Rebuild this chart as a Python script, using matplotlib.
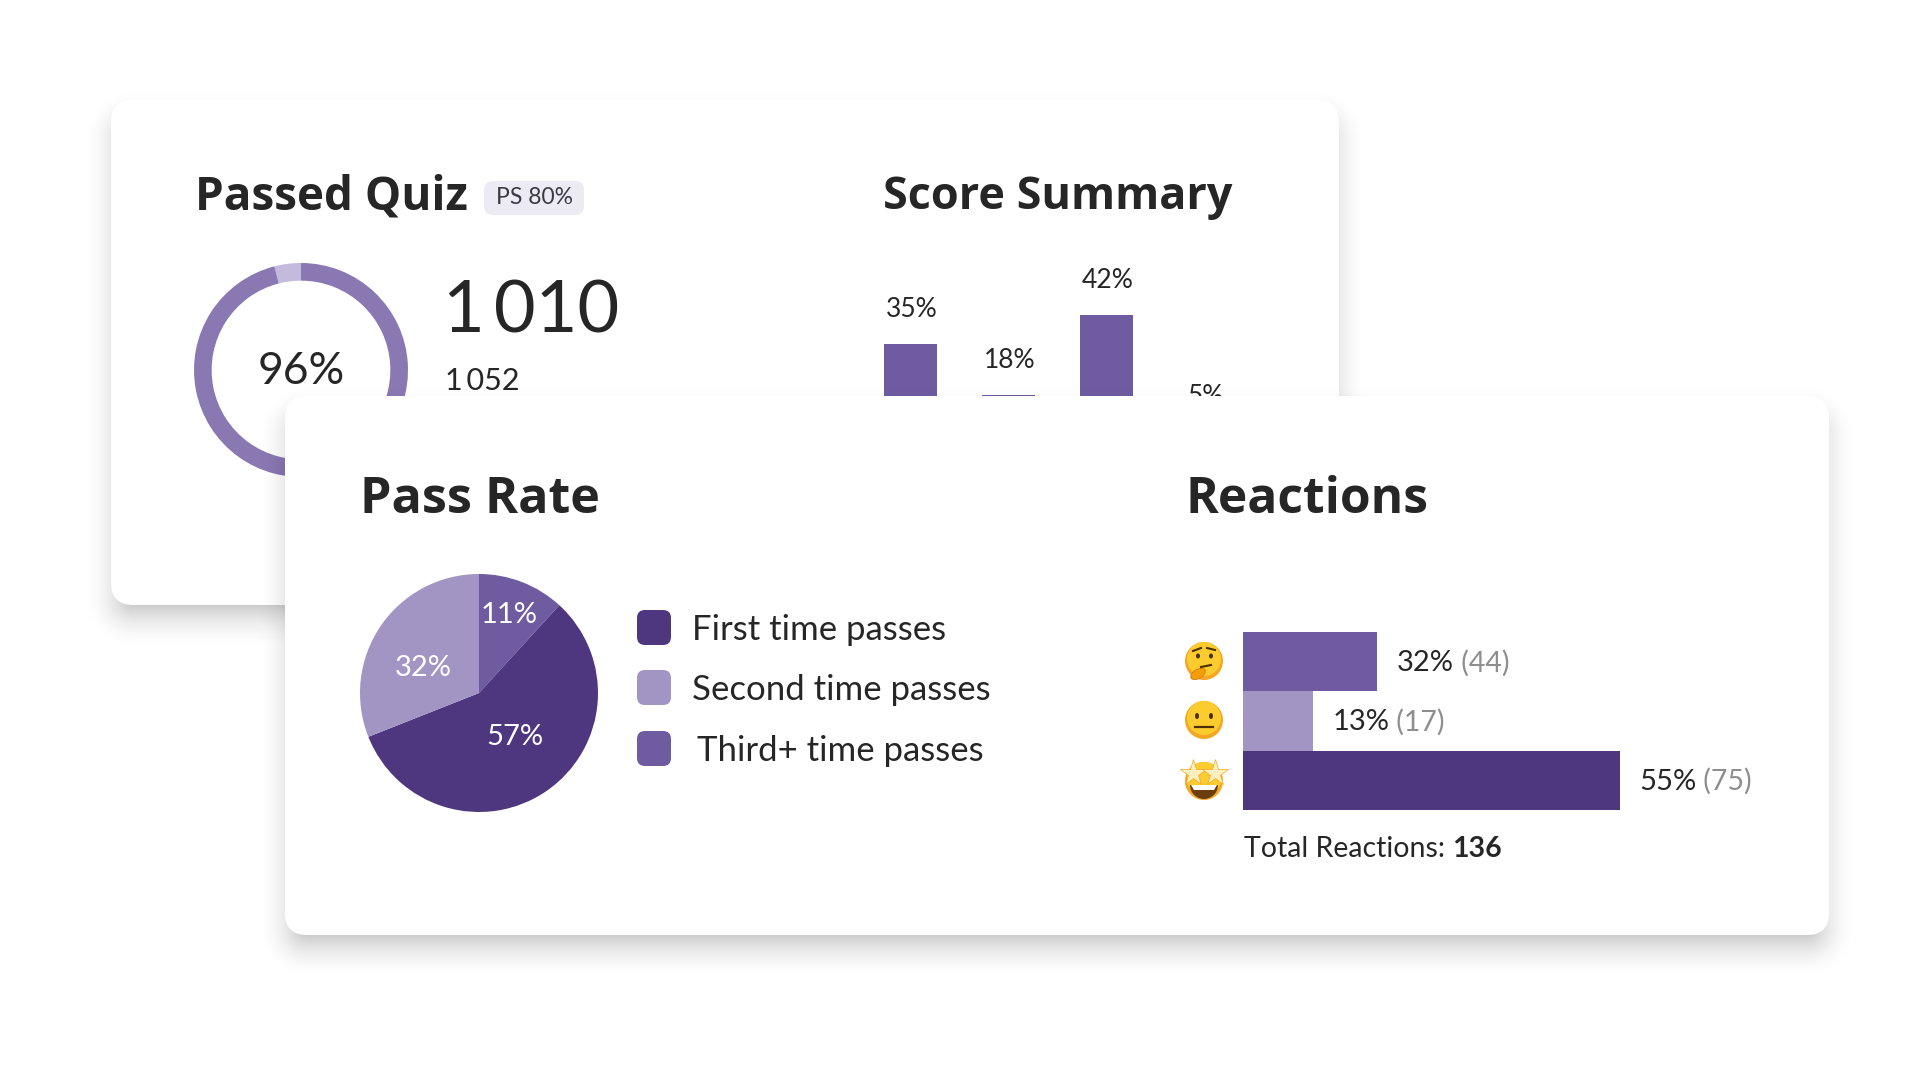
import math

import numpy as np
import matplotlib
matplotlib.use("Agg")
import matplotlib.pyplot as plt
from matplotlib.patches import FancyBboxPatch, Circle, Ellipse, Polygon, Wedge

plt.rcParams["font.family"] = ["Lato", "DejaVu Sans"]
TITLE_FONT = ["Open Sans", "Lato"]

W, H = 1920, 1080

# data
donut_values = [4, 96]
donut_label = "96%"
passed_count = "1\u2009010"
total_count = "1\u2009052"
badge_text = "PS 80%"

score_labels = ["35%", "18%", "42%", "5%"]
# bar heights as drawn, the picture is not proportional to its labels
score_heights = [35, 18, 44.7, 6]

# slices as drawn, a little off the printed labels
pie_values = [11.8, 57.2, 31]
pie_labels = ["11%", "57%", "32%"]
legend_labels = ["First time passes", "Second time passes", "Third+ time passes"]

reaction_pct = ["32%", "13%", "55%"]
reaction_counts = ["(44)", "(17)", "(75)"]
# bar lengths as drawn, same remark as above
reaction_lengths = [19.6, 10.2, 55]
reaction_total = "136"

DARK = "#4F3780"
MID = "#6F5BA0"
LIGHT = "#A295C3"
RING = "#8A78B3"
RING_LIGHT = "#C4BADB"
INK = "#262626"
GREY = "#8E8E8E"


def px_axes(x, y, w, h, z):
    # axes from pixel box, y measured from the top of the image
    ax = fig.add_axes([x / W, 1 - (y + h) / H, w / W, h / H], zorder=z)
    ax.patch.set_alpha(0)
    ax.axis("off")
    return ax


def layer(z):
    ax = px_axes(0, 0, W, H, z)
    ax.set_xlim(0, W)
    ax.set_ylim(H, 0)
    return ax


def card(ax, x0, y0, x1, y1, r=22):
    # shadow from the distance to a rounded box, stacked patches band at this alpha
    xx, yy = np.meshgrid(np.arange(W) + 0.5, np.arange(H) + 0.5)
    cx, cy = (x0 + x1) / 2, (y0 + y1) / 2 + 16
    qx = np.abs(xx - cx) - (x1 - x0) / 2 + r
    qy = np.abs(yy - cy) - (y1 - y0) / 2 + r
    dist = np.hypot(np.maximum(qx, 0), np.maximum(qy, 0)) + np.minimum(np.maximum(qx, qy), 0) - r
    t = np.clip((dist + 20) / 50, 0, 1)
    rgba = np.zeros((H, W, 4))
    rgba[..., 3] = 0.24 * (1 - t) ** 2
    ax.imshow(rgba, extent=(0, W, H, 0), interpolation="nearest", aspect="auto")
    ax.add_patch(FancyBboxPatch(
        (x0, y0), x1 - x0, y1 - y0, boxstyle="round,pad=0,rounding_size=%d" % r,
        fc="white", ec="none"))


def round_box(ax, x, y, w, h, r, color):
    ax.add_patch(FancyBboxPatch((x, y), w, h,
                                boxstyle="round,pad=0,rounding_size=%d" % r,
                                fc=color, ec="none"))


def emoji_base(ax, cx, cy, r=19):
    ax.add_patch(Circle((cx, cy), r, fc="#F5A623", ec="none"))
    ax.add_patch(Circle((cx, cy - 2), r - 2, fc="#FCCB2E", ec="none"))


def emoji_thinking(ax, cx, cy):
    emoji_base(ax, cx, cy)
    ax.add_patch(Ellipse((cx - 6, cy - 5), 4, 5, fc="#4A3000"))
    ax.add_patch(Ellipse((cx + 7, cy - 5), 4, 5, fc="#4A3000"))
    ax.plot([cx - 11, cx - 3], [cy - 10, cy - 13], color="#4A3000", lw=1.5)
    ax.plot([cx + 3, cx + 11], [cy - 13, cy - 11], color="#4A3000", lw=1.5)
    ax.plot([cx - 3, cx + 7], [cy + 6, cy + 4], color="#4A3000", lw=1.5)
    ax.add_patch(Ellipse((cx - 6, cy + 13), 16, 9, angle=-30, fc="#F59E0B", ec="#D97706", lw=0.6))


def emoji_neutral(ax, cx, cy):
    emoji_base(ax, cx, cy)
    ax.add_patch(Ellipse((cx - 7, cy - 4), 4, 6, fc="#4A3000"))
    ax.add_patch(Ellipse((cx + 7, cy - 4), 4, 6, fc="#4A3000"))
    ax.plot([cx - 9, cx + 9], [cy + 7, cy + 7], color="#4A3000", lw=1.6)


def emoji_star(ax, cx, cy):
    emoji_base(ax, cx, cy)
    ax.add_patch(Wedge((cx, cy + 4), 14, 0, 180, fc="#6B3F0B", ec="none"))
    ax.add_patch(Polygon([(cx - 13, cy + 4), (cx + 13, cy + 4), (cx + 10, cy + 9), (cx - 10, cy + 9)],
                         fc="white", ec="none"))
    for dx in (-11, 11):
        ax.plot([cx + dx], [cy - 8], marker="*", ms=20, mfc="#FDF0C0", mec="#F5A623", mew=0.5)


fig = plt.figure(figsize=(W / 100, H / 100), dpi=100, facecolor="white")

# back card
back = layer(0)
card(back, 111, 100, 1339, 605)
back.text(195, 197, "Passed Quiz", fontsize=33, fontweight="bold", family=TITLE_FONT, color=INK, va="center")
back.text(883, 197, "Score Summary", fontsize=32.4, fontweight="bold", family=TITLE_FONT, color=INK, va="center")
round_box(back, 484, 181, 100, 34, 9, "#ECEAF3")
back.text(534, 197, badge_text, fontsize=16.5, color="#3A3A44", ha="center", va="center")
back.text(443, 312, passed_count, fontsize=52, color=INK, va="center")
back.text(445, 381, total_count, fontsize=22, color=INK, va="center")

# donut, starts at twelve o'clock, light part runs to the left
donut_ax = px_axes(194, 263, 214, 214, 1)
donut_ax.pie(donut_values, colors=[RING_LIGHT, RING], startangle=90,
             wedgeprops=dict(width=0.165, linewidth=0))
donut_ax.set_xlim(-1, 1)
donut_ax.set_ylim(-1, 1)
donut_ax.text(0, -0.01, donut_label, fontsize=32, color=INK, ha="center", va="center")

# score summary, the front card hides the lower part
score_ax = px_axes(861.5, 249, 392, 200, 1)
score_x = range(len(score_heights))
bars = score_ax.bar(score_x, score_heights, width=0.545, color=MID)
score_ax.set_xlim(-0.5, 3.5)
score_ax.set_ylim(0, 200 / 3)
for b, lab in zip(bars, score_labels):
    score_ax.annotate(lab, (b.get_x() + b.get_width() / 2, b.get_height()), xytext=(1, 16),
                      textcoords="offset points", fontsize=19, color=INK, ha="center", va="bottom")

# front card
front = layer(2)
card(front, 285, 396, 1829, 935)
front.text(360, 500, "Pass Rate", fontsize=36.3, fontweight="bold", family=TITLE_FONT, color=INK, va="center")
front.text(1185, 500, "Reactions", fontsize=35.8, fontweight="bold", family=TITLE_FONT, color=INK, va="center")

# pie, clockwise from the top
pie_ax = px_axes(360, 574, 238, 238, 3)
wedges, _ = pie_ax.pie(pie_values, colors=[MID, DARK, LIGHT], startangle=90,
                       counterclock=False, wedgeprops=dict(linewidth=0))
pie_ax.set_xlim(-1, 1)
pie_ax.set_ylim(-1, 1)
label_dist = [0.70, 0.45, 0.57]
label_shift = [(0, 0), (0.05, 0), (0, -0.11)]
for w, txt, d, (sx, sy) in zip(wedges, pie_labels, label_dist, label_shift):
    ang = math.radians((w.theta1 + w.theta2) / 2)
    pie_ax.text(d * math.cos(ang) + sx, d * math.sin(ang) + sy, txt,
                fontsize=21, color="white", ha="center", va="center")

# reactions, bars touch each other
react_ax = px_axes(1243, 632, 500, 178, 3)
react_y = range(len(reaction_lengths))
hbars = react_ax.barh(react_y, reaction_lengths, height=1.0, color=[MID, LIGHT, DARK])
react_ax.set_xlim(0, 500 / (376.6 / 55))
react_ax.set_ylim(2.5, -0.5)
for b, pct, cnt in zip(hbars, reaction_pct, reaction_counts):
    t = react_ax.annotate(pct, (b.get_width(), b.get_y() + 0.5), xytext=(14, -1),
                          textcoords="offset points", fontsize=21, color=INK, va="center")
    react_ax.annotate(" " + cnt, xy=(1, 0.5), xycoords=t, fontsize=20.5, color=GREY, va="center")

# legend, icons and the last line of text sit on top
over = layer(4)
legend_y = [627, 687, 748]
legend_x = [692, 692, 697]
for lab, col, y, x in zip(legend_labels, [DARK, LIGHT, MID], legend_y, legend_x):
    round_box(over, 637, y - 17, 34, 35, 8, col)
    over.text(x, y + 3, lab, fontsize=25, color=INK, va="center")

emoji_thinking(over, 1204, 661)
emoji_neutral(over, 1204, 720)
emoji_star(over, 1204, 781)

t = over.text(1244, 849, "Total Reactions: ", fontsize=20.5, color=INK, va="center")
over.annotate(reaction_total, xy=(1, 0.5), xycoords=t, fontsize=20.5, fontweight="bold", color=INK, va="center")

fig.savefig("out.png", dpi=100)
